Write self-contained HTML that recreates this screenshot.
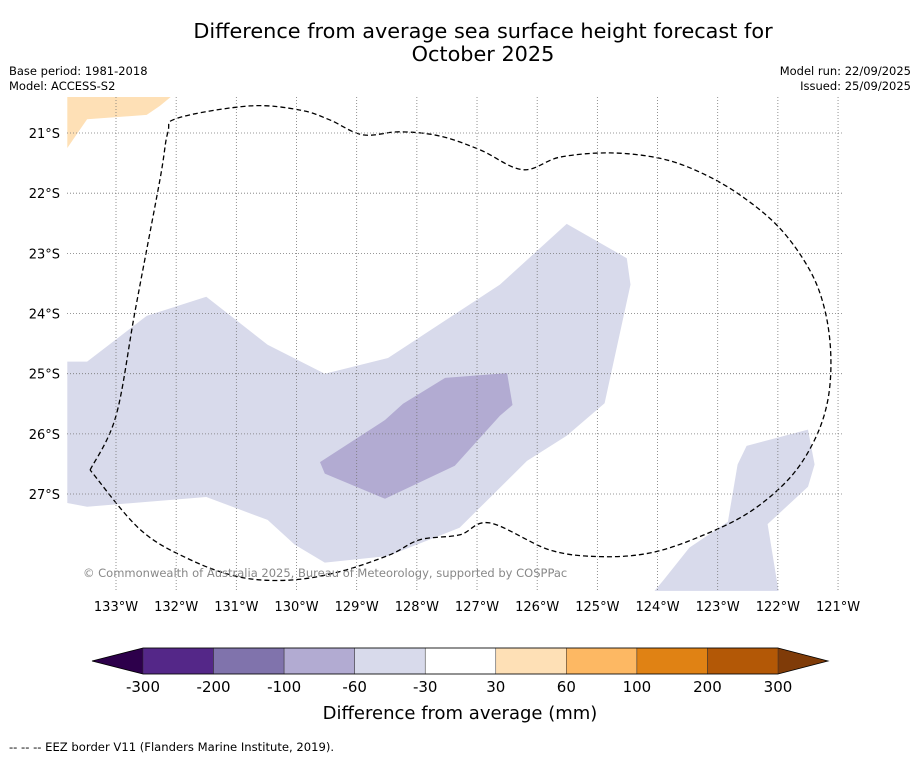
<!DOCTYPE html>
<html><head><meta charset="utf-8"><style>
body{margin:0;background:#fff;font-family:"Liberation Sans","DejaVu Sans",sans-serif;}
svg text{font-family:"DejaVu Sans","Liberation Sans",sans-serif;}
</style></head><body>
<svg id="c" width="919" height="758" xmlns="http://www.w3.org/2000/svg">
<rect width="919" height="758" fill="#fff"/>
<text x="483" y="38" font-size="20.8" text-anchor="middle">Difference from average sea surface height forecast for</text>
<text x="483" y="61" font-size="20.8" text-anchor="middle">October 2025</text>
<text x="9" y="75" font-size="11.5">Base period: 1981-2018</text>
<text x="9" y="90" font-size="11.5">Model: ACCESS-S2</text>
<text x="911" y="75" font-size="11.5" text-anchor="end">Model run: 22/09/2025</text>
<text x="911" y="90" font-size="11.5" text-anchor="end">Issued: 25/09/2025</text>
<g id="map"></g>
<text x="83" y="577" font-size="11.5" fill="#888">© Commonwealth of Australia 2025, Bureau of Meteorology, supported by COSPPac</text>
<g id="cbar"></g>
<text x="460" y="719" font-size="18" text-anchor="middle">Difference from average (mm)</text>
<text x="9" y="751" font-size="11.6">-- -- -- EEZ border V11 (Flanders Marine Institute, 2019).</text>
</svg>
<script>
const lonTicks=[-133,-132,-131,-130,-129,-128,-127,-126,-125,-124,-123,-122,-121];
const latTicks=[-21,-22,-23,-24,-25,-26,-27];
const regionLight=[[-133.81,-24.80],[-133.48,-24.80],[-132.49,-24.04],[-131.50,-23.72],[-130.48,-24.52],[-129.53,-25.00],[-128.48,-24.74],[-126.62,-23.52],[-125.51,-22.51],[-124.51,-23.08],[-124.45,-23.52],[-124.88,-25.49],[-125.51,-26.03],[-126.17,-26.45],[-127.29,-27.56],[-128.48,-28.03],[-129.53,-28.14],[-130.03,-27.84],[-130.48,-27.43],[-131.50,-27.05],[-133.48,-27.21],[-133.81,-27.15]];
const regionDark=[[-129.61,-26.47],[-128.53,-25.77],[-128.23,-25.50],[-127.53,-25.07],[-126.50,-24.99],[-126.41,-25.52],[-126.62,-25.70],[-127.37,-26.53],[-128.53,-27.08],[-129.53,-26.66]];
const regionSE=[[-124.05,-28.61],[-123.90,-28.43],[-123.47,-27.89],[-122.83,-27.46],[-122.67,-26.51],[-122.52,-26.20],[-121.50,-25.93],[-121.39,-26.51],[-121.50,-26.88],[-122.17,-27.50],[-121.99,-28.61]];
const regionOrange=[[-133.81,-20.40],[-132.09,-20.40],[-132.27,-20.55],[-132.49,-20.70],[-133.48,-20.77],[-133.81,-21.25]];
const eez=[[-133.43,-26.60],[-133.00,-25.70],[-132.68,-23.94],[-132.27,-21.78],[-132.14,-21.00],[-131.97,-20.75],[-130.77,-20.55],[-129.94,-20.62],[-129.45,-20.78],[-128.90,-21.03],[-128.28,-20.98],[-127.62,-21.05],[-126.95,-21.28],[-126.24,-21.61],[-125.62,-21.40],[-124.79,-21.33],[-123.96,-21.42],[-123.30,-21.65],[-122.63,-22.03],[-121.97,-22.58],[-121.47,-23.28],[-121.22,-23.94],[-121.12,-24.69],[-121.17,-25.44],[-121.39,-26.10],[-121.80,-26.73],[-122.47,-27.30],[-123.30,-27.71],[-124.13,-27.98],[-124.96,-28.04],[-125.79,-27.93],[-126.79,-27.48],[-127.29,-27.68],[-127.95,-27.76],[-128.45,-28.01],[-129.28,-28.29],[-130.11,-28.43],[-130.94,-28.38],[-131.77,-28.09],[-132.60,-27.59],[-133.43,-26.60]];
const cbLevels=[-300,-200,-100,-60,-30,30,60,100,200,300];
const cbColors=["#542788","#8073ac","#b2abd2","#d8daeb","#ffffff","#fee0b6","#fdb863","#e08214","#b35806"];
const NS="http://www.w3.org/2000/svg";
const X=lon=>116+(lon+133)*60.17;
const Y=lat=>133+(-21-lat)*60.17;
const map=document.getElementById('map');
function mk(t,a,p){const e=document.createElementNS(NS,t);for(const k in a)e.setAttribute(k,a[k]);(p||map).appendChild(e);return e;}
const pts=arr=>arr.map(p=>X(p[0]).toFixed(1)+','+Y(p[1]).toFixed(1)).join(' ');
function smooth(arr){
 const P=arr.map(p=>[X(p[0]),Y(p[1])]);let d='M'+P[0][0].toFixed(1)+','+P[0][1].toFixed(1);
 for(let i=0;i<P.length-1;i++){
  const p0=P[Math.max(0,i-1)],p1=P[i],p2=P[i+1],p3=P[Math.min(P.length-1,i+2)];
  const c1=[p1[0]+(p2[0]-p0[0])/6,p1[1]+(p2[1]-p0[1])/6],c2=[p2[0]-(p3[0]-p1[0])/6,p2[1]-(p3[1]-p1[1])/6];
  d+=` C${c1[0].toFixed(1)},${c1[1].toFixed(1)} ${c2[0].toFixed(1)},${c2[1].toFixed(1)} ${p2[0].toFixed(1)},${p2[1].toFixed(1)}`;
 }
 return d;
}
const cp=mk('clipPath',{id:'clip'});mk('rect',{x:67,y:97,width:776,height:494},cp);
const g=mk('g',{'clip-path':'url(#clip)'});
let e;
e=mk('polygon',{points:pts(regionOrange),fill:'#fee0b6'},g);


e=mk('polygon',{points:pts(regionLight),fill:'#d8daeb'},g);


e=mk('polygon',{points:pts(regionSE),fill:'#d8daeb'},g);


e=mk('polygon',{points:pts(regionDark),fill:'#b2abd2'},g);


lonTicks.forEach(l=>{
 const ln=mk('line',{x1:X(l),x2:X(l),y1:97,y2:591,stroke:'#777','stroke-width':0.8,'stroke-dasharray':'1,2'});
 
 
 const t=mk('text',{x:X(l),y:611,'font-size':13,'text-anchor':'middle'});t.textContent=Math.abs(l)+'°W';
 
 
});
latTicks.forEach(l=>{
 const ln=mk('line',{x1:67,x2:843,y1:Y(l),y2:Y(l),stroke:'#777','stroke-width':0.8,'stroke-dasharray':'1,2'});
 
 
 const t=mk('text',{x:60,y:Y(l)+5,'font-size':13,'text-anchor':'end'});t.textContent=Math.abs(l)+'°S';
 
 
});
e=mk('path',{d:smooth(eez),fill:'none',stroke:'#000','stroke-width':1.3,'stroke-dasharray':'5,3'},g);


const cb=document.getElementById('cbar');
const cx0=143,cx1=778,cy=648,ch=26;const bw=(cx1-cx0)/cbColors.length;
e=mk('polygon',{points:`${cx0},${cy} ${cx0},${cy+ch} 92,${cy+ch/2}`,fill:'#2d004b'},cb);


e=mk('polygon',{points:`${cx1},${cy} ${cx1},${cy+ch} 828,${cy+ch/2}`,fill:'#7f3b08'},cb);


cbColors.forEach((c,i)=>{
 const r=mk('rect',{x:cx0+i*bw,y:cy,width:bw,height:ch,fill:c,stroke:'#333','stroke-width':0.5},cb);
 
 
});
cbLevels.forEach((v,i)=>{
 const t=mk('text',{x:cx0+i*bw,y:692,'font-size':15,'text-anchor':'middle'},cb);t.textContent=v;
 
 
});
mk('polygon',{points:`92,${cy+ch/2} ${cx0},${cy} ${cx1},${cy} 828,${cy+ch/2} ${cx1},${cy+ch} ${cx0},${cy+ch}`,fill:'none',stroke:'#000','stroke-width':0.8},cb);
</script>
</body></html>
